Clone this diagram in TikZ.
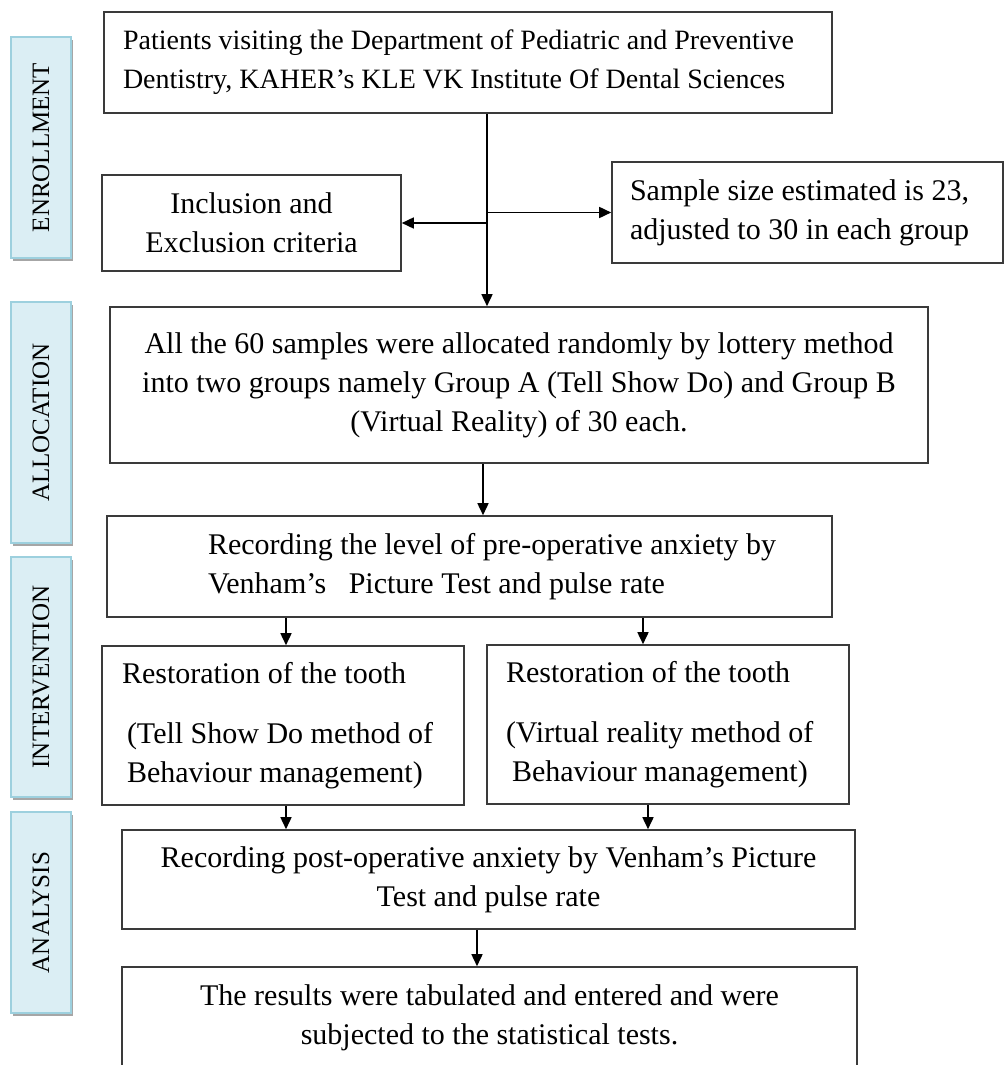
\documentclass[tikz,border=0pt]{standalone}
\usepackage{fontspec}
\setmainfont{Liberation Serif}
\usetikzlibrary{arrows.meta,shadows}
\definecolor{stagefill}{HTML}{DBEEF4}
\definecolor{stageline}{HTML}{9DD0DE}
\definecolor{boxline}{HTML}{3A3A3A}
\tikzset{
	box/.style={draw=boxline, line width=1.6pt, inner sep=0pt, font=\fontsize{30}{39}\selectfont},
	stage/.style={draw=stageline, fill=stagefill, line width=1.6pt, rotate=90, minimum height=60pt, inner sep=0pt,
		font=\fontsize{25}{30}\selectfont,
		drop shadow={shadow xshift=2pt, shadow yshift=-3pt, fill=black!35, opacity=1}},
	arr/.style={line width=1.6pt, draw=black, -{Triangle[length=12pt,width=11pt]}}
}
\begin{document}
\begin{tikzpicture}[x=1pt,y=-1pt]
	\useasboundingbox (0,0) rectangle (1005,1065);
	% stages
	\node[stage, minimum width=221pt] (enrol) at (41,147.5) {ENROLLMENT};
	\node[stage, minimum width=241pt] (alloclab) at (41,422.5) {ALLOCATION};
	\node[stage, minimum width=240pt] (interv) at (41,677) {INTERVENTION};
	\node[stage, minimum width=201pt] (analys) at (41,912.5) {ANALYSIS};
	% boxes
	\node[box, minimum width=728pt, minimum height=101pt, text width=690pt, align=flush left,
		font=\fontsize{28}{39}\selectfont] (top) at (468,62.5)
		{Patients visiting the Department of Pediatric and Preventive\\Dentistry, KAHER's KLE VK Institute Of Dental Sciences};
	\node[box, minimum width=299pt, minimum height=96pt, align=center] (incl) at (251.5,223)
		{Inclusion and\\Exclusion criteria};
	\node[box, minimum width=391pt, minimum height=101pt, text width=355pt, align=flush left] (sample) at (807.5,212.5)
		{Sample size estimated is 23,\\adjusted to 30 in each group};
	\node[box, minimum width=818pt, minimum height=156pt, align=center] (alloc) at (519,385)
		{All the 60 samples were allocated randomly by lottery method\\into two groups namely Group A (Tell Show Do) and Group B\\(Virtual Reality) of 30 each.};
	\node[box, minimum width=725pt, minimum height=101pt] (pre) at (469.5,566.5) {};
	\node[box, draw=none, anchor=west, align=flush left] (pretext) at ([xshift=101pt]pre.west)
		{Recording the level of pre-operative anxiety by\\Venham's\ \ \ Picture Test and pulse rate};
	\node[box, minimum width=362pt, minimum height=159pt, text width=322pt, align=flush left] (restL) at (283,725.5)
		{Restoration of the tooth\\[21pt]\hspace*{5pt}(Tell Show Do method of\\\hspace*{5pt}Behaviour management)};
	\node[box, minimum width=362pt, minimum height=159pt, text width=324pt, align=flush left] (restR) at (668,724.5)
		{Restoration of the tooth\\[21pt](Virtual reality method of\\\hspace*{6pt}Behaviour management)};
	\node[box, minimum width=733pt, minimum height=99pt, align=center] (post) at (488.5,879.5)
		{Recording post-operative anxiety by Venham's Picture\\Test and pulse rate};
	\node[box, minimum width=735pt, minimum height=102pt, align=center] (final) at (489.5,1018)
		{The results were tabulated and entered and were\\subjected to the statistical tests.};
	% connectors
	\coordinate (trunk) at (487,0);
	\coordinate (colA) at (483,0);
	\coordinate (colL) at (286,0);
	\coordinate (colR) at (643,0);
	\coordinate (colS) at (648,0);
	\coordinate (colF) at (477,0);
	\draw[arr] (top.south -| trunk) -- (alloc.north -| trunk);
	\draw[arr] (incl.east -| trunk) -- (incl.east);
	\draw[arr] (sample.west -| trunk) -- (sample.west);
	\draw[arr] (alloc.south -| colA) -- (pre.north -| colA);
	\draw[arr] (pre.south -| colL) -- (restL.north -| colL);
	\draw[arr] (pre.south -| colR) -- (restR.north -| colR);
	\draw[arr] (restL.south -| colL) -- (post.north -| colL);
	\draw[arr] (restR.south -| colS) -- (post.north -| colS);
	\draw[arr] (post.south -| colF) -- (final.north -| colF);
\end{tikzpicture}
\end{document}
